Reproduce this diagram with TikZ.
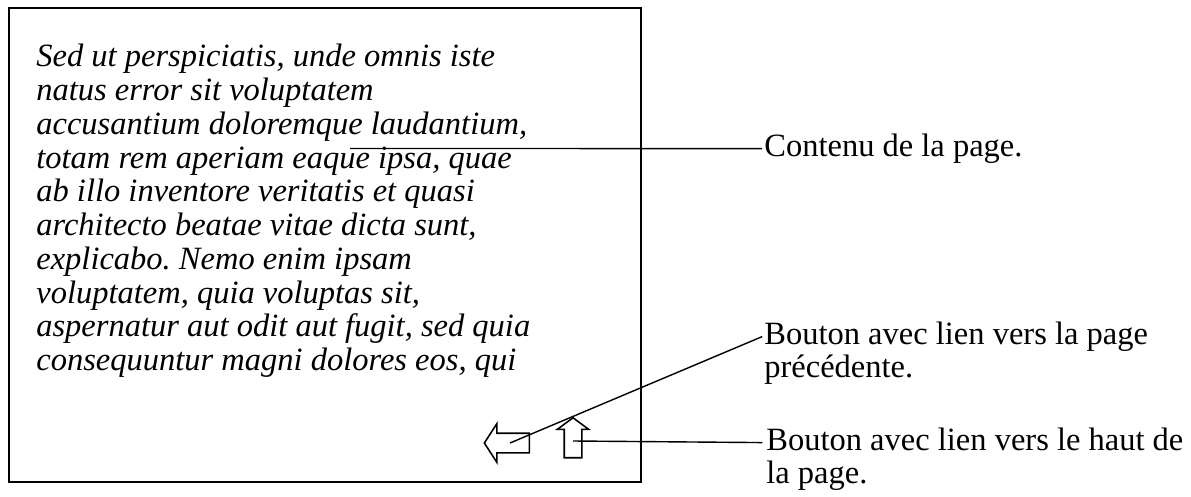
\documentclass[tikz,border=0pt]{standalone}
\usepackage{fontspec}
\setmainfont{Liberation Serif}
\frenchspacing
\usetikzlibrary{shapes.arrows}
\tikzstyle{callout}=[font=\fontsize{18.5}{18.8}\selectfont, anchor=north west, inner sep=0pt, align=left]
\tikzstyle{leader}=[line width=0.8pt]
\tikzstyle{button}=[single arrow, draw, line width=0.9pt]

\begin{document}
\begin{tikzpicture}[x=0.02cm,y=-0.02cm]
\useasboundingbox (0,0) rectangle (1191,497);
\node[draw, line width=0.9pt, minimum width=12.64cm, minimum height=9.48cm] (Page) at (325,245) {};
\node[callout, font=\fontsize{18.5}{19.2}\selectfont\itshape] (Text) at (36,44) {Sed ut perspiciatis, unde omnis iste\\
natus error sit voluptatem\\
accusantium doloremque laudantium,\\
totam rem aperiam eaque ipsa, quae\\
ab illo inventore veritatis et quasi\\
architecto beatae vitae dicta sunt,\\
explicabo. Nemo enim ipsam\\
voluptatem, quia voluptas sit,\\
aspernatur aut odit aut fugit, sed quia\\
consequuntur magni dolores eos, qui};
\node[button, shape border rotate=180, inner sep=0.18cm, minimum height=0.9cm, single arrow head extend=0.19cm, single arrow tip angle=114] (Prev) at (510,443) {};
\node[button, shape border rotate=90, inner sep=0.16cm, minimum height=0.8cm, single arrow head extend=0.14cm, single arrow tip angle=107] (Top) at (573,441) {};
\node[callout] (LContent) at (764,134) {Contenu de la page.};
\node[callout] (LPrev) at (764,322) {Bouton avec lien vers la page\\précédente.};
\node[callout] (LTop) at (766,428) {Bouton avec lien vers le haut de\\la page.};
\coordinate (Content) at (350,148.5);
\draw[leader] (Content) -- ([xshift=-1pt,yshift=-8.3pt]LContent.north west);
\draw[leader] (Prev.center) -- ([xshift=-1pt,yshift=-8.3pt]LPrev.north west);
\draw[leader] (Top.center) -- ([xshift=-2pt,yshift=-8.3pt]LTop.north west);
\end{tikzpicture}
\end{document}
